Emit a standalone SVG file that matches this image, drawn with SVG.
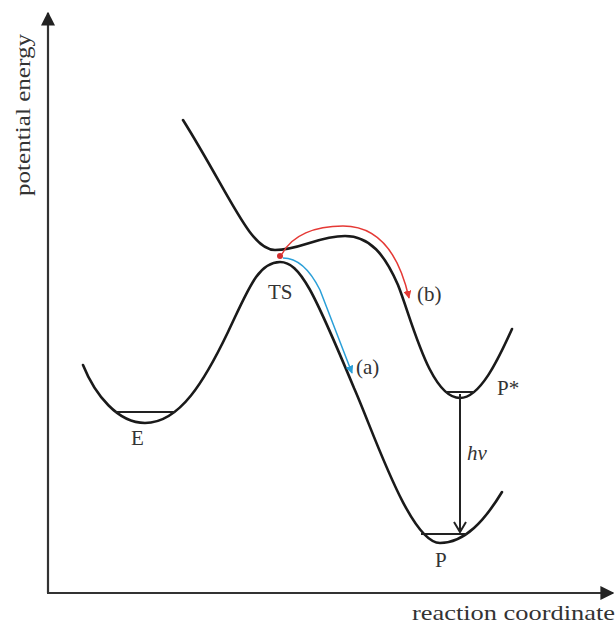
<svg xmlns="http://www.w3.org/2000/svg" width="616" height="624" viewBox="0 0 616 624">
<style>
.curve{fill:none;stroke:#1a1a1a;stroke-width:2.6;stroke-linecap:round}
.level{fill:none;stroke:#222;stroke-width:2}
.axis{fill:none;stroke:#333;stroke-width:2.2}
.lbl{font-family:"Liberation Serif","Times New Roman",serif;font-size:21px;fill:#333}
</style>
<defs>
<marker id="ah" viewBox="0 0 10 10" refX="9" refY="5" markerWidth="14" markerHeight="14" markerUnits="userSpaceOnUse" orient="auto"><path d="M0,0 L10,5 L0,10 z" fill="#222"/></marker>
<marker id="ahr" viewBox="0 0 10 10" refX="9" refY="5" markerWidth="8" markerHeight="8" markerUnits="userSpaceOnUse" orient="auto"><path d="M0,0 L10,5 L0,10 z" fill="#e53935"/></marker>
<marker id="ahb" viewBox="0 0 10 10" refX="9" refY="5" markerWidth="8" markerHeight="8" markerUnits="userSpaceOnUse" orient="auto"><path d="M0,0 L10,5 L0,10 z" fill="#2a9fd8"/></marker>
<marker id="ahv" viewBox="0 0 14 14" refX="12" refY="7" markerWidth="14" markerHeight="14" markerUnits="userSpaceOnUse" orient="auto"><path d="M2,1 L12,7 L2,13" fill="none" stroke="#222" stroke-width="2"/></marker>
</defs>
<g id="axes">
<path class="axis" d="M48,593 L48,13" marker-end="url(#ah)"/>
<path class="axis" d="M47,593 L613,593" marker-end="url(#ah)"/>
<text class="lbl" transform="translate(30,196) rotate(-90)" textLength="162" lengthAdjust="spacingAndGlyphs" style="font-size:22px">potential energy</text>
<text class="lbl" x="412" y="620" textLength="203" lengthAdjust="spacingAndGlyphs" style="font-size:22px">reaction coordinate</text>
</g>
<g id="ground-curve">
<path class="curve" d="M83,365 C95,395 118,423 145,423 C180,423 205,380 228,332 C248,290 258,262 280,262 C300,262 314,292 354,388 C374,433 410,543 440,543 C465,543 485,520 502,492"/>
</g>
<g id="excited-curve">
<path class="curve" d="M183,120 C230,195 250,250 275,250 C300,250 318,236 345,236 C370,236 385,255 398,285 C412,320 430,398 460,398 C480,398 498,360 512,329"/>
</g>
<g id="E">
<line class="level" x1="115" y1="412" x2="175" y2="412"/>
<text class="lbl" x="131" y="445">E</text>
</g>
<g id="TS">
<text class="lbl" x="268" y="299">TS</text>
</g>
<g id="Pstar">
<line class="level" x1="446" y1="392" x2="474" y2="392"/>
<text class="lbl" x="497" y="395">P*</text>
</g>
<g id="P">
<line class="level" x1="421" y1="534" x2="467" y2="534"/>
<text class="lbl" x="435" y="567">P</text>
</g>
<g id="connectors">
<path d="M282,254 C292,235 315,226 343,226 C372,226 397,245 409,298" fill="none" stroke="#e53935" stroke-width="1.5" marker-end="url(#ahr)"/>
<path d="M283,258 C298,258 310,270 320,290 L352,373" fill="none" stroke="#2a9fd8" stroke-width="1.5" marker-end="url(#ahb)"/>
<line x1="460" y1="394" x2="460" y2="532" stroke="#222" stroke-width="2" marker-end="url(#ahv)"/>
<circle cx="280" cy="256" r="3" fill="#d32f2f"/>
<text class="lbl" x="417" y="301">(b)</text>
<text class="lbl" x="356" y="374">(a)</text>
<text class="lbl" x="467" y="460" font-style="italic">hν</text>
</g>
</svg>
